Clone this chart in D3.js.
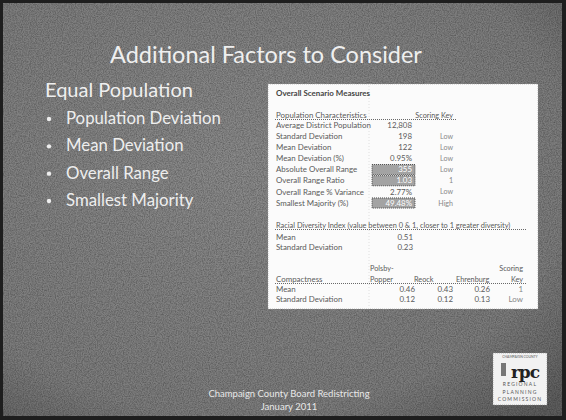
<!DOCTYPE html>
<html>
<head>
<meta charset="utf-8">
<script src="https://cdn.jsdelivr.net/npm/d3@7"></script>
<style>
  body { margin: 0; background: #2a2a2a; }
  svg { display: block; font-family: Lato, "Open Sans", sans-serif; }
</style>
</head>
<body>
<svg id="slide"></svg>
<script>
// Slide texts
const title = "Additional Factors to Consider";
const subTitle = "Equal Population";
const bullets = ["Population Deviation", "Mean Deviation", "Overall Range", "Smallest Majority"];
const footer = ["Champaign County Board Redistricting", "January 2011"];

// Table: population characteristics
const tableTitle = "Overall Scenario Measures";
const popHeader = ["Population Characteristics", "Scoring Key"];
const popLabels = ["Average District Population", "Standard Deviation", "Mean Deviation", "Mean Deviation (%)",
  "Absolute Overall Range", "Overall Range Ratio", "Overall Range % Variance", "Smallest Majority (%)"];
const popValues = ["12,808", "198", "122", "0.95%", "355", "1.03", "2.77%", "49.48%"];
const popScores = ["", "Low", "Low", "Low", "Low", "1", "Low", "High"];
const popHighlighted = ["Absolute Overall Range", "Overall Range Ratio", "Smallest Majority (%)"];

// Table: racial diversity
const raceHeader = "Racial Diversity Index (value between 0 & 1, closer to 1 greater diversity)";
const raceLabels = ["Mean", "Standard Deviation"];
const raceValues = ["0.51", "0.23"];

// Table: compactness
const compHeader = "Compactness";
const compColumns = [["Polsby-", "Popper"], ["", "Reock"], ["", "Ehrenburg"], ["Scoring", "Key"]];
const compLabels = ["Mean", "Standard Deviation"];
const compValues = [["0.46", "0.43", "0.26", "1"], ["0.12", "0.12", "0.13", "Low"]];

// Logo words
const logoTop = "CHAMPAIGN COUNTY";
const logoMark = "rpc";
const logoWords = ["REGIONAL", "PLANNING", "COMMISSION"];

const W = 566, H = 420;
const svg = d3.select("#slide").attr("width", W).attr("height", H);
const defs = svg.append("defs");

// grainy scanned background
const grad = defs.append("radialGradient").attr("id", "bg").attr("cx", "42%").attr("cy", "40%").attr("r", "80%");
grad.append("stop").attr("offset", "0%").attr("stop-color", "#8a8a8a");
grad.append("stop").attr("offset", "75%").attr("stop-color", "#7c7c7c");
grad.append("stop").attr("offset", "100%").attr("stop-color", "#5e5e5e");

const grain = defs.append("filter").attr("id", "grain").attr("x", 0).attr("y", 0).attr("width", "100%").attr("height", "100%");
grain.append("feTurbulence").attr("type", "fractalNoise").attr("baseFrequency", 0.85).attr("numOctaves", 2).attr("seed", 4);
grain.append("feColorMatrix").attr("type", "matrix")
  .attr("values", "0 0 0 0 0  0 0 0 0 0  0 0 0 0 0  0 0 0 -1.2 0.8");

svg.append("rect").attr("width", W).attr("height", H).attr("fill", "#1e1e1e");
svg.append("rect").attr("x", 3).attr("y", 3).attr("width", W - 7).attr("height", H - 7).attr("fill", "url(#bg)");
svg.append("rect").attr("x", 3).attr("y", 3).attr("width", W - 7).attr("height", H - 7)
  .attr("filter", "url(#grain)").attr("opacity", 0.45);

// fit a text element to a target width by adjusting font size
function fit(sel, width) {
  const node = sel.node();
  const fs = parseFloat(sel.attr("font-size"));
  const w = node.getComputedTextLength();
  sel.attr("font-size", (fs * width / w).toFixed(2));
  return sel;
}

// Title
svg.append("text").attr("x", 266).attr("y", 63).attr("text-anchor", "middle")
  .attr("font-size", 26).attr("fill", "#efefef").text(title)
  .call(s => fit(s, 312));

// Left column
svg.append("text").attr("x", 45).attr("y", 97).attr("font-size", 20).attr("fill", "#efefef")
  .text(subTitle).call(s => fit(s, 148));

const bulletY = d3.scalePoint().domain(bullets).range([124, 206]);
const bg = svg.append("g").selectAll("g").data(bullets).join("g")
  .attr("transform", d => `translate(0,${bulletY(d)})`);
bg.append("circle").attr("cx", 49).attr("cy", -5).attr("r", 2.2).attr("fill", "#eee");
const bt = bg.append("text").attr("x", 66).attr("font-size", 16).attr("fill", "#eeeeee").text(d => d);
const bScale = 155 / bt.filter((d, i) => i === 0).node().getComputedTextLength();
bt.attr("font-size", (16 * bScale).toFixed(2));

// Footer
const footY = d3.scalePoint().domain(footer).range([397, 410]);
svg.append("g").selectAll("text").data(footer).join("text")
  .attr("x", 289).attr("y", d => footY(d)).attr("text-anchor", "middle")
  .attr("font-size", 9.5).attr("fill", "#e8e8e8").text(d => d);

// ---- Table ----
const tx = 268, ty = 84, tw = 270, th = 225;
const tbl = svg.append("g");
tbl.append("rect").attr("x", tx).attr("y", ty).attr("width", tw).attr("height", th)
  .attr("fill", "#fbfbfb").attr("stroke", "#999").attr("stroke-dasharray", "1,1").attr("stroke-width", 0.6);

// faint sheet grid lines
tbl.append("line").attr("x1", 369).attr("x2", 369).attr("y1", ty + 2).attr("y2", ty + th - 2)
  .attr("stroke", "#ccc").attr("stroke-dasharray", "1,2").attr("stroke-width", 0.6);

const ink = "#5a5a5a";
const fsT = 7.9;
const labelX = 276, valueX = 414, scoreX = 453;

tbl.append("text").attr("x", labelX).attr("y", 96).attr("font-size", 7.4).attr("font-weight", "bold")
  .attr("fill", "#444").text(tableTitle).call(s => fit(s, 94));

function dotted(y, x2) {
  tbl.append("line").attr("x1", labelX - 1).attr("x2", x2).attr("y1", y).attr("y2", y)
    .attr("stroke", "#444").attr("stroke-dasharray", "1,1").attr("stroke-width", 0.8);
}

// population characteristics
const popY = d3.scalePoint().domain(popLabels).range([125, 203]);
const step = popY.step();
tbl.append("text").attr("x", labelX).attr("y", 115).attr("dy", "0.35em").attr("font-size", fsT).attr("fill", ink).text(popHeader[0]);
tbl.append("text").attr("x", scoreX).attr("y", 115).attr("dy", "0.35em").attr("text-anchor", "end").attr("font-size", fsT - 0.6).attr("fill", ink).text(popHeader[1]);
dotted(119.5, 456);

tbl.selectAll("rect.hl").data(popHighlighted).join("rect").attr("class", "hl")
  .attr("x", 372).attr("width", 43)
  .attr("y", d => popY(d) - step / 2 + 0.5).attr("height", step - 1)
  .attr("fill", "#a3a3a3").attr("stroke", "#333").attr("stroke-dasharray", "1,1").attr("stroke-width", 0.8);

const popRow = tbl.append("g").selectAll("g").data(popLabels).join("g")
  .attr("transform", d => `translate(0,${popY(d)})`);
popRow.append("text").attr("x", labelX).attr("dy", "0.35em").attr("font-size", fsT).attr("fill", ink).text(d => d);
popRow.append("text").attr("x", valueX - 2).attr("dy", "0.35em").attr("text-anchor", "end").attr("font-size", fsT)
  .attr("fill", d => popHighlighted.includes(d) ? "#fff" : ink)
  .text((d, i) => popValues[i]);
popRow.append("text").attr("x", scoreX).attr("dy", "0.35em").attr("text-anchor", "end").attr("font-size", fsT - 0.8)
  .attr("fill", "#888").text((d, i) => popScores[i]);

// racial diversity
tbl.append("text").attr("x", labelX).attr("y", 225).attr("dy", "0.35em").attr("font-size", fsT).attr("fill", ink).text(raceHeader)
  .call(s => fit(s, 234));
dotted(229.5, 526);
const raceY = d3.scalePoint().domain(raceLabels).range([237, 247]);
const raceRow = tbl.append("g").selectAll("g").data(raceLabels).join("g")
  .attr("transform", d => `translate(0,${raceY(d)})`);
raceRow.append("text").attr("x", labelX).attr("dy", "0.35em").attr("font-size", fsT).attr("fill", ink).text(d => d);
raceRow.append("text").attr("x", valueX - 1).attr("dy", "0.35em").attr("text-anchor", "end").attr("font-size", fsT)
  .attr("fill", ink).text((d, i) => raceValues[i]);

// compactness
const colRight = d3.scaleOrdinal().domain(d3.range(compColumns.length)).range([415, 453, 490, 523]);
const headX = [370, 414, 456, 523];
const headAnchor = ["start", "start", "start", "end"];
tbl.append("text").attr("x", labelX).attr("y", 279).attr("dy", "0.35em").attr("font-size", fsT).attr("fill", ink).text(compHeader);
compColumns.forEach((c, j) => {
  c.forEach((line, k) => {
    tbl.append("text").attr("x", headX[j]).attr("y", k ? 279 : 268).attr("dy", "0.35em")
      .attr("text-anchor", headAnchor[j])
      .attr("font-size", fsT - 0.6).attr("fill", ink).text(line);
  });
});
dotted(283.5, 526);
const compY = d3.scalePoint().domain(compLabels).range([289, 299]);
const compRow = tbl.append("g").selectAll("g").data(compLabels).join("g")
  .attr("transform", d => `translate(0,${compY(d)})`);
compRow.append("text").attr("x", labelX).attr("dy", "0.35em").attr("font-size", fsT).attr("fill", ink).text(d => d);
compRow.each(function (d, i) {
  d3.select(this).selectAll("text.v").data(compValues[i]).join("text").attr("class", "v")
    .attr("x", (v, j) => colRight(j)).attr("dy", "0.35em").attr("text-anchor", "end")
    .attr("font-size", fsT).attr("fill", (v, j) => j === 3 ? "#888" : ink).text(v => v);
});

// ---- RPC logo ----
const logo = svg.append("g").attr("transform", "translate(493,353)");
logo.append("rect").attr("width", 54).attr("height", 52).attr("fill", "#f2f2f2")
  .attr("stroke", "#888").attr("stroke-dasharray", "1,1").attr("stroke-width", 0.6);
logo.append("text").attr("x", 27).attr("y", 4.5).attr("text-anchor", "middle").attr("font-size", 3.4)
  .attr("fill", "#555").text(logoTop);
logo.append("rect").attr("x", 8).attr("y", 10).attr("width", 5).attr("height", 13).attr("fill", "#777");
logo.append("text").attr("x", 32).attr("y", 25).attr("text-anchor", "middle")
  .attr("font-family", "'DejaVu Serif', 'Liberation Serif', serif").attr("font-size", 17).attr("font-weight", "bold")
  .attr("letter-spacing", -1).attr("fill", "#222").text(logoMark);
logo.selectAll("text.w").data(logoWords).join("text").attr("class", "w")
  .attr("x", 27).attr("y", (d, i) => 33 + i * 7.5).attr("text-anchor", "middle")
  .attr("font-size", 5).attr("letter-spacing", 1.2).attr("fill", "#555").text(d => d);
</script>
</body>
</html>
